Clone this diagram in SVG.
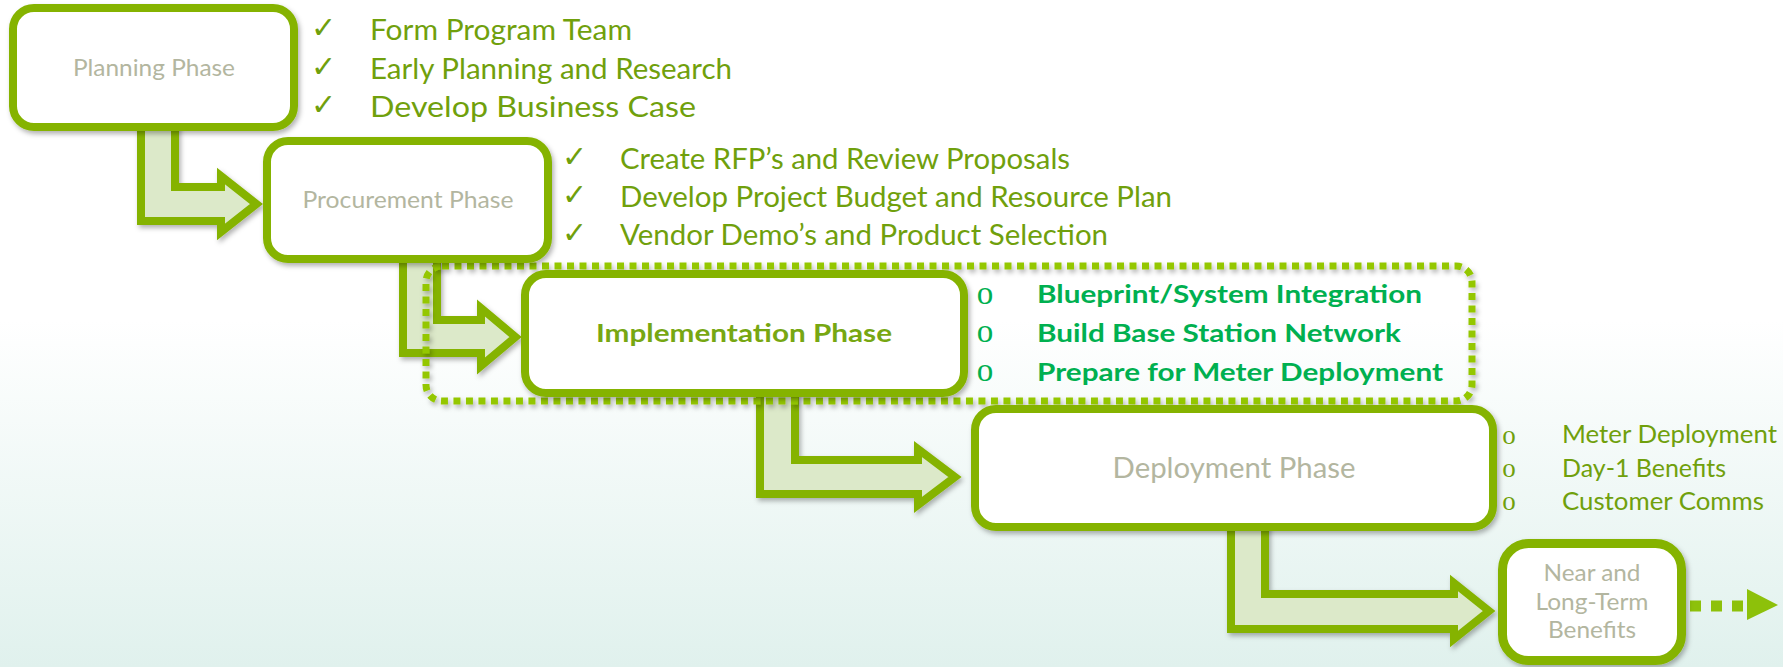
<svg xmlns="http://www.w3.org/2000/svg" width="1783" height="667" viewBox="0 0 1783 667">
  <defs>
    <linearGradient id="bg" x1="0" y1="0" x2="0" y2="1">
      <stop offset="0" stop-color="#ffffff"/>
      <stop offset="0.48" stop-color="#ffffff"/>
      <stop offset="1" stop-color="#e0f1ed"/>
    </linearGradient>
    <filter id="sh" x="-10%" y="-10%" width="125%" height="140%">
      <feDropShadow dx="2" dy="3" stdDeviation="2.5" flood-color="#000000" flood-opacity="0.3"/>
    </filter>
    <style>
      .box { fill: #ffffff; stroke: #85b300; stroke-width: 8; filter: url(#sh); }
      .arrow { fill: #dce9c9; stroke: #85b300; stroke-width: 8; stroke-linejoin: miter; filter: url(#sh); }
      .phase { font-family: Lato, "Liberation Sans", sans-serif; fill: #b3b6a0; text-anchor: middle; }
      .item { font-family: Lato, "Liberation Sans", sans-serif; font-size: 28.5px; fill: #70a00c; }
      .chk { font-family: "DejaVu Sans", sans-serif; font-size: 30px; fill: #70a00c; }
      .bul { font-family: "Liberation Serif", serif; text-anchor: middle; }
      .impl { font-family: Lato, "Liberation Sans", sans-serif; font-weight: bold; font-size: 24.5px; fill: #00b050; }
      .dep { font-family: Lato, "Liberation Sans", sans-serif; font-size: 25px; fill: #70a00c; }
    </style>
  </defs>

  <rect x="0" y="0" width="1783" height="667" fill="url(#bg)"/>

  <g id="connectors">
    <path class="arrow" d="M141,120 L175,120 L175,187 L221,187 L221,176 L256.5,204 L221,232 L221,221 L141,221 Z"/>
    <path class="arrow" d="M403,250 L437,250 L437,320 L481,320 L481,308 L515.5,337 L481,366 L481,353 L403,353 Z"/>
    <path class="arrow" d="M760,385 L795,385 L795,460 L918,460 L918,449 L955,477 L918,505 L918,494 L760,494 Z"/>
    <path class="arrow" d="M1231,520 L1265,520 L1265,594 L1454,594 L1454,583 L1489,611 L1454,639 L1454,629 L1231,629 Z"/>
    <line x1="1690" y1="606" x2="1744" y2="606" stroke="#8dc10a" stroke-width="11" stroke-dasharray="11 10"/>
    <polygon points="1747,589 1778,605 1747,620" fill="#8dc10a"/>
  </g>

  <g id="implementation-frame">
    <rect x="426" y="266" width="1046" height="135" rx="16" fill="none" stroke="#94c700" stroke-width="7" stroke-dasharray="7 5.5" filter="url(#sh)"/>
  </g>

  <g id="planning">
    <rect class="box" x="13" y="8" width="281" height="119" rx="21"/>
    <text class="phase" x="154" y="76" font-size="24" textLength="162" lengthAdjust="spacingAndGlyphs">Planning Phase</text>
    <text class="chk" x="311" y="38">✓</text>
    <text class="chk" x="311" y="77">✓</text>
    <text class="chk" x="311" y="115">✓</text>
    <text class="item" x="370" y="40" textLength="262" lengthAdjust="spacingAndGlyphs">Form Program Team</text>
    <text class="item" x="370" y="79" textLength="362" lengthAdjust="spacingAndGlyphs">Early Planning and Research</text>
    <text class="item" x="370" y="117" textLength="326" lengthAdjust="spacingAndGlyphs">Develop Business Case</text>
  </g>

  <g id="procurement">
    <rect class="box" x="267" y="141" width="281" height="118" rx="21"/>
    <text class="phase" x="408" y="208" font-size="24" textLength="211" lengthAdjust="spacingAndGlyphs">Procurement Phase</text>
    <text class="chk" x="562" y="167">✓</text>
    <text class="chk" x="562" y="205">✓</text>
    <text class="chk" x="562" y="243">✓</text>
    <text class="item" x="620" y="169" textLength="450" lengthAdjust="spacingAndGlyphs">Create RFP’s and Review Proposals</text>
    <text class="item" x="620" y="207" textLength="552" lengthAdjust="spacingAndGlyphs">Develop Project Budget and Resource Plan</text>
    <text class="item" x="620" y="245" textLength="488" lengthAdjust="spacingAndGlyphs">Vendor Demo’s and Product Selection</text>
  </g>

  <g id="implementation">
    <rect class="box" x="525" y="274" width="439" height="119" rx="21"/>
    <text class="phase" x="744" y="342" font-size="24.5" font-weight="bold" style="fill:#77a712" textLength="296" lengthAdjust="spacingAndGlyphs">Implementation Phase</text>
    <text class="bul" x="985" y="304" font-size="33" fill="#00b050">o</text>
    <text class="bul" x="985" y="342" font-size="33" fill="#00b050">o</text>
    <text class="bul" x="985" y="381" font-size="33" fill="#00b050">o</text>
    <text class="impl" x="1037" y="303" textLength="385" lengthAdjust="spacingAndGlyphs">Blueprint/System Integration</text>
    <text class="impl" x="1037" y="342" textLength="364" lengthAdjust="spacingAndGlyphs">Build Base Station Network</text>
    <text class="impl" x="1037" y="381" textLength="406" lengthAdjust="spacingAndGlyphs">Prepare for Meter Deployment</text>
  </g>

  <g id="deployment">
    <rect class="box" x="975" y="409" width="518" height="118" rx="21"/>
    <text class="phase" x="1234" y="478" font-size="28.5" textLength="243" lengthAdjust="spacingAndGlyphs">Deployment Phase</text>
    <text class="bul" x="1509" y="444" font-size="27" fill="#70a00c">o</text>
    <text class="bul" x="1509" y="477" font-size="27" fill="#70a00c">o</text>
    <text class="bul" x="1509" y="510" font-size="27" fill="#70a00c">o</text>
    <text class="dep" x="1562" y="443" textLength="215" lengthAdjust="spacingAndGlyphs">Meter Deployment</text>
    <text class="dep" x="1562" y="477" textLength="164" lengthAdjust="spacingAndGlyphs">Day-1 Benefits</text>
    <text class="dep" x="1562" y="510" textLength="202" lengthAdjust="spacingAndGlyphs">Customer Comms</text>
  </g>

  <g id="benefits">
    <rect class="box" x="1502.5" y="543.5" width="179" height="117" rx="26" style="stroke-width:9"/>
    <text class="phase" x="1592" y="581" font-size="23.5" textLength="97" lengthAdjust="spacingAndGlyphs">Near and</text>
    <text class="phase" x="1592" y="610" font-size="23.5" textLength="113" lengthAdjust="spacingAndGlyphs">Long-Term</text>
    <text class="phase" x="1592" y="638" font-size="23.5" textLength="88" lengthAdjust="spacingAndGlyphs">Benefits</text>
  </g>
</svg>
